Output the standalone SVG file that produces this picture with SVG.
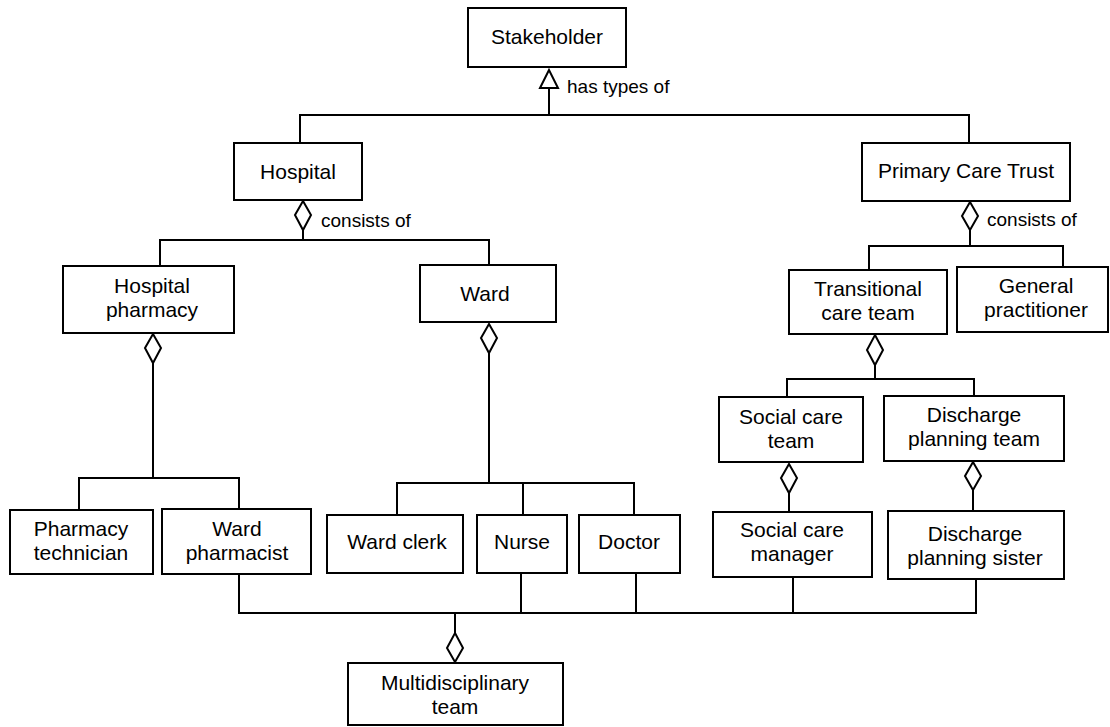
<svg xmlns="http://www.w3.org/2000/svg" width="1110" height="727" viewBox="0 0 1110 727">
<style>
rect.n{fill:#fff;stroke:#000;stroke-width:2}
text{font-family:"Liberation Sans",Arial,sans-serif;fill:#000}
text.t{font-size:21px;text-anchor:middle}
text.l{font-size:19px}
.c line,.c polyline{stroke:#000;stroke-width:2;fill:none}
.c polygon{fill:#fff;stroke:#000;stroke-width:2}
</style>
<rect width="1110" height="727" fill="#fff"/>
<g id="connectors" class="c">
<polygon points="549,70 540,88 558,88"/>
<polyline points="549,88 549,115"/>
<polyline points="300,143 300,115 969,115 969,143"/>
<text class="l" x="567" y="93">has types of</text>
<polygon points="303,201 311,215 303,230 295,215"/>
<polyline points="303,230 303,240"/>
<polyline points="160,266 160,240 489,240 489,265"/>
<text class="l" x="321" y="227">consists of</text>
<polygon points="970,202 978,216 970,230 962,216"/>
<polyline points="970,230 970,246"/>
<polyline points="869,270 869,246 1063,246 1063,267"/>
<text class="l" x="987" y="226">consists of</text>
<polygon points="153,334 161,348 153,363 145,348"/>
<polyline points="153,363 153,478"/>
<polyline points="79,510 79,478 239,478 239,509"/>
<polygon points="489,324 497,338 489,353 481,338"/>
<polyline points="489,353 489,483"/>
<polyline points="397,515 397,483 634,483 634,515"/>
<line x1="523" y1="483" x2="523" y2="515"/>
<polygon points="875,335 883,350 875,365 867,350"/>
<polyline points="875,365 875,379"/>
<polyline points="787,397 787,379 974,379 974,396"/>
<polygon points="789,464 797,478 789,493 781,478"/>
<line x1="789" y1="493" x2="789" y2="512"/>
<polygon points="973,462 981,476 973,490 965,476"/>
<line x1="973" y1="490" x2="973" y2="511"/>
<polyline points="239,574 239,613 976,613 976,579"/>
<line x1="521" y1="573" x2="521" y2="613"/>
<line x1="636" y1="573" x2="636" y2="613"/>
<line x1="793" y1="577" x2="793" y2="613"/>
<line x1="455" y1="613" x2="455" y2="633"/>
<polygon points="455,633 463,648 455,662 447,648"/>
</g>
<g id="stakeholder"><rect class="n" x="468" y="8" width="158" height="59"/><text class="t" x="547" y="44">Stakeholder</text></g>
<g id="hospital"><rect class="n" x="234" y="143" width="128" height="57"/><text class="t" x="298" y="179">Hospital</text></g>
<g id="pct"><rect class="n" x="862" y="143" width="208" height="58"/><text class="t" x="966" y="178">Primary Care Trust</text></g>
<g id="hospital-pharmacy"><rect class="n" x="63" y="266" width="171" height="67"/><text class="t" x="152" y="293">Hospital</text><text class="t" x="152" y="317">pharmacy</text></g>
<g id="ward"><rect class="n" x="420" y="265" width="136" height="57"/><text class="t" x="485" y="301">Ward</text></g>
<g id="transitional"><rect class="n" x="789" y="270" width="158" height="64"/><text class="t" x="868" y="296">Transitional</text><text class="t" x="868" y="320">care team</text></g>
<g id="gp"><rect class="n" x="957" y="267" width="151" height="65"/><text class="t" x="1036" y="293">General</text><text class="t" x="1036" y="317">practitioner</text></g>
<g id="social-team"><rect class="n" x="719" y="397" width="144" height="65"/><text class="t" x="791" y="424">Social care</text><text class="t" x="791" y="448">team</text></g>
<g id="discharge-team"><rect class="n" x="884" y="396" width="180" height="65"/><text class="t" x="974" y="422">Discharge</text><text class="t" x="974" y="446">planning team</text></g>
<g id="social-manager"><rect class="n" x="713" y="512" width="159" height="65"/><text class="t" x="792" y="537">Social care</text><text class="t" x="792" y="561">manager</text></g>
<g id="discharge-sister"><rect class="n" x="888" y="511" width="176" height="68"/><text class="t" x="975" y="541">Discharge</text><text class="t" x="975" y="565">planning sister</text></g>
<g id="pharmacy-technician"><rect class="n" x="10" y="510" width="143" height="64"/><text class="t" x="81" y="536">Pharmacy</text><text class="t" x="81" y="560">technician</text></g>
<g id="ward-pharmacist"><rect class="n" x="162" y="509" width="149" height="65"/><text class="t" x="237" y="536">Ward</text><text class="t" x="237" y="560">pharmacist</text></g>
<g id="ward-clerk"><rect class="n" x="327" y="515" width="136" height="58"/><text class="t" x="397" y="549">Ward clerk</text></g>
<g id="nurse"><rect class="n" x="477" y="515" width="90" height="58"/><text class="t" x="522" y="549">Nurse</text></g>
<g id="doctor"><rect class="n" x="579" y="515" width="101" height="58"/><text class="t" x="629" y="549">Doctor</text></g>
<g id="multidisciplinary"><rect class="n" x="348" y="663" width="215" height="62"/><text class="t" x="455" y="690">Multidisciplinary</text><text class="t" x="455" y="714">team</text></g>
</svg>
